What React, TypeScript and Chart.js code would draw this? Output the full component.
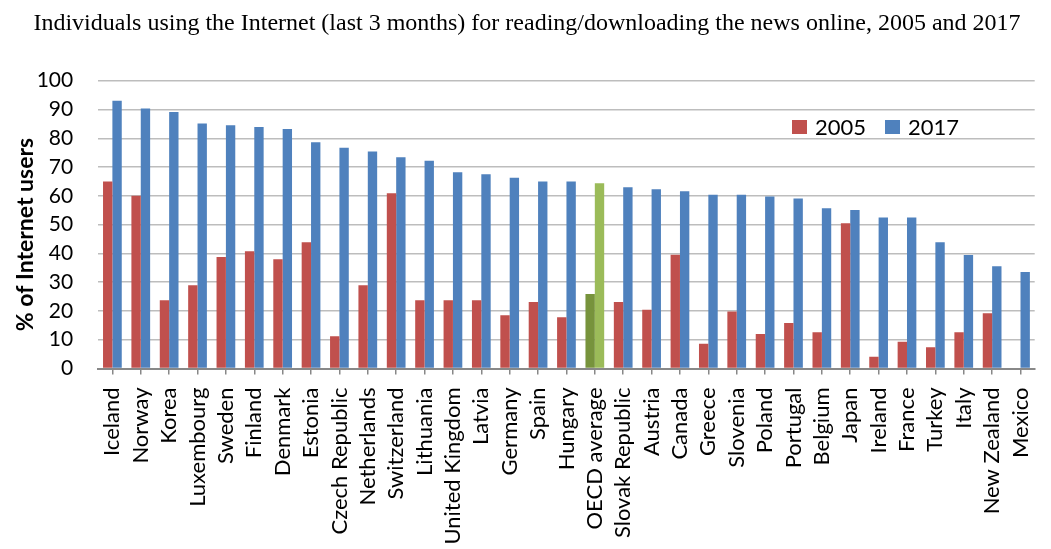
import React, { useEffect, useRef } from "react";
import { Chart, registerables } from "chart.js";

Chart.register(...registerables);

const titleText =
  "Individuals using the Internet (last 3 months) for reading/downloading the news online, 2005 and 2017";
const yAxisTitle = "% of Internet users";

const categories = [
  "Iceland", "Norway", "Korea", "Luxembourg", "Sweden", "Finland", "Denmark", "Estonia",
  "Czech Republic", "Netherlands", "Switzerland", "Lithuania", "United Kingdom", "Latvia",
  "Germany", "Spain", "Hungary", "OECD average", "Slovak Republic", "Austria", "Canada",
  "Greece", "Slovenia", "Poland", "Portugal", "Belgium", "Japan", "Ireland", "France",
  "Turkey", "Italy", "New Zealand", "Mexico",
];

const values2005 = [
  65, 60, 23.7, 28.9, 38.7, 40.7, 38, 43.9, 11.2, 28.9, 60.9, 23.7, 23.7, 23.7, 18.5, 23.1,
  17.8, 25.9, 23.1, 20.4, 39.5, 8.6, 19.8, 12, 15.8, 12.6, 50.5, 4.1, 9.3, 7.4, 12.6, 19.2, 0.3,
];

const values2017 = [
  93, 90.3, 89.1, 85.1, 84.5, 83.9, 83.2, 78.6, 76.7, 75.4, 73.4, 72.2, 68.2, 67.5, 66.3, 65,
  65, 64.4, 63, 62.3, 61.6, 60.4, 60.4, 59.8, 59.1, 55.7, 55.1, 52.5, 52.5, 43.9, 39.4, 35.5, 33.5,
];

const seriesLabels = ["2005", "2017"];
const yTicks = [0, 10, 20, 30, 40, 50, 60, 70, 80, 90, 100];

const RED = "#C0504D";
const BLUE = "#4F81BD";
const DARK_GREEN = "#77933C";
const LIGHT_GREEN = "#9BBB59";
const HIGHLIGHT = "OECD average";

const colorsFor = (base: string, highlight: string) =>
  categories.map((c) => (c === HIGHLIGHT ? highlight : base));

// Legend inside the plot area (upper right) and the rotated y-axis title
const annotations = {
  id: "annotations",
  afterDraw(chart: any) {
    const ctx = chart.ctx;
    const items = chart.data.datasets.map((ds: any, i: number) => ({
      label: ds.label,
      color: i === 0 ? RED : BLUE,
    }));
    const positions = [792, 885];
    ctx.save();
    ctx.font = "22px Lato";
    ctx.textBaseline = "middle";
    ctx.textAlign = "left";
    items.forEach((it: any, i: number) => {
      const x = positions[i];
      ctx.fillStyle = it.color;
      ctx.fillRect(x, 120, 15, 14);
      ctx.fillStyle = "#000";
      ctx.fillText(it.label, x + 23, 127.5);
    });
    ctx.restore();

    ctx.save();
    ctx.translate(26, 234.5);
    ctx.rotate(-Math.PI / 2);
    ctx.font = "bold 23px Lato";
    ctx.fillStyle = "#000";
    ctx.textAlign = "center";
    ctx.textBaseline = "middle";
    ctx.fillText(yAxisTitle, 0, 0);
    ctx.restore();
  },
};

export default function App() {
  const canvasRef = useRef<HTMLCanvasElement | null>(null);

  useEffect(() => {
    if (!canvasRef.current) return;
    const chart = new Chart(canvasRef.current, {
      type: "bar",
      data: {
        labels: categories,
        datasets: [
          {
            label: seriesLabels[0],
            data: values2005,
            backgroundColor: colorsFor(RED, DARK_GREEN),
            borderWidth: 0,
          },
          {
            label: seriesLabels[1],
            data: values2017,
            backgroundColor: colorsFor(BLUE, LIGHT_GREEN),
            borderWidth: 0,
          },
        ],
      },
      plugins: [annotations],
      options: {
        responsive: false,
        animation: false,
        layout: { padding: { left: 0, right: 6, top: 0, bottom: 0 } },
        datasets: {
          bar: { categoryPercentage: 0.66, barPercentage: 1.0 },
        },
        plugins: {
          legend: { display: false },
          tooltip: { enabled: false },
          title: {
            display: true,
            text: titleText,
            color: "#000",
            font: { family: "Liberation Serif", size: 24, weight: "normal" },
            padding: { top: 9.6, bottom: 42.3 },
          },
        },
        scales: {
          x: {
            afterFit(scale: any) {
              scale.height = 180.5;
            },
            grid: {
              display: true,
              drawOnChartArea: false,
              drawTicks: true,
              tickLength: 6,
              offset: false,
              color: "#888",
              lineWidth: 1.5,
            },
            border: { display: true, color: "#888", width: 2 },
            ticks: {
              autoSkip: false,
              maxRotation: 90,
              minRotation: 90,
              padding: 13,
              color: "#000",
              font: { family: "Lato", size: 22 },
            },
          },
          y: {
            min: 0,
            max: 100,
            afterFit(scale: any) {
              scale.width = 98.2;
            },
            afterBuildTicks(scale: any) {
              scale.ticks = yTicks.map((v) => ({ value: v }));
            },
            grid: {
              drawTicks: false,
              color: "#BDBDBD",
              lineWidth: 1.5,
            },
            border: { display: false },
            ticks: {
              padding: 25,
              color: "#000",
              font: { family: "Lato", size: 21 },
            },
          },
        },
      },
    });
    return () => chart.destroy();
  }, []);

  return (
    <div
      style={{
        position: "fixed",
        left: 0,
        top: 0,
        width: 1051,
        height: 549,
        overflow: "hidden",
        background: "#fff",
      }}
    >
      <canvas ref={canvasRef} width={1060} height={549} style={{ display: "block" }} />
    </div>
  );
}
